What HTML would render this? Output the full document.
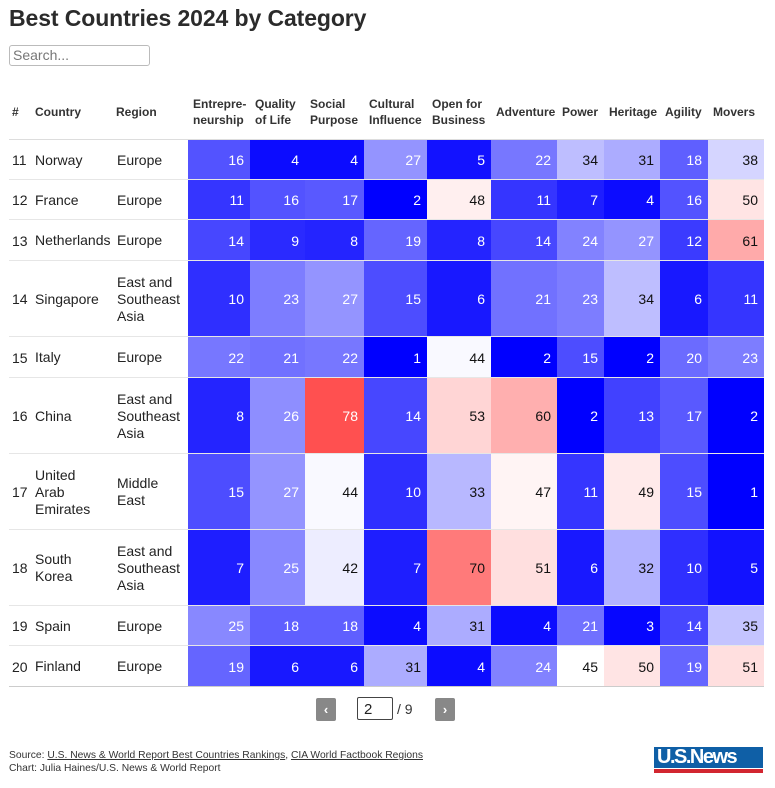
<!DOCTYPE html>
<html><head><meta charset="utf-8"><style>
body{margin:0;width:775px;height:788px;background:#fff;font-family:"Liberation Sans",sans-serif;color:#222;position:relative;overflow:hidden}
.a{position:absolute}
#title{left:9px;top:5px;font-size:23px;font-weight:bold;color:#2b2b2b;letter-spacing:-0.1px}
#search{left:9px;top:45px;width:136px;height:19px;border:1px solid #bbb;border-radius:3px;font-size:14px;color:#777;padding-left:3px;line-height:19px;box-sizing:content-box}
.h{font-size:12px;font-weight:bold;color:#333;line-height:16px;display:flex;align-items:center}
.c{font-size:14px;display:flex;align-items:center;box-sizing:border-box}
.num{justify-content:flex-end;padding-right:6px}
.line{height:1px;background:#ddd;left:9px;width:755px}
.btn{width:20px;height:23px;background:#888;border-radius:2px;color:#fff;font-size:13px;text-align:center;line-height:23px;font-weight:bold}
#foot{left:9px;top:749px;font-size:10.3px;color:#333;line-height:13px}
#foot u{color:#333}
</style></head><body>
<div class="a" id="title">Best Countries 2024 by Category</div>
<div class="a" id="search">Search...</div>
<div id="tbl"></div>
<div class="a btn" style="left:316px;top:698px">‹</div>
<div class="a" style="left:357px;top:697px;width:36px;height:23px;border:1px solid #444;border-radius:2px;font-size:15px;line-height:23px;padding-left:6px;box-sizing:border-box">2</div>
<div class="a" style="left:397px;top:701px;font-size:14px;color:#333">/ 9</div>
<div class="a btn" style="left:435px;top:698px">›</div>
<div class="a" id="foot">Source: <u>U.S. News &amp; World Report Best Countries Rankings</u>, <u>CIA World Factbook Regions</u><br>Chart: Julia Haines/U.S. News &amp; World Report</div>
<div class="a" style="left:654px;top:747px;width:109px;height:26px">
<div class="a" style="left:0;top:0;width:109px;height:21px;background:#0f5fa6;color:#fff;font-weight:bold;font-size:20px;line-height:21px;letter-spacing:-1.5px;padding-left:3px;box-sizing:border-box">U.S.News</div>
<div class="a" style="left:0;top:22px;width:109px;height:4px;background:#d22630"></div>
</div>
<script>
const categories=["Entrepre-<br>neurship","Quality<br>of Life","Social<br>Purpose","Cultural<br>Influence","Open for<br>Business","Adventure","Power","Heritage","Agility","Movers"];
const ranks=[11,12,13,14,15,16,17,18,19,20];
const countries=["Norway","France","Netherlands","Singapore","Italy","China","United<br>Arab<br>Emirates","South<br>Korea","Spain","Finland"];
const regions=["Europe","Europe","Europe","East and<br>Southeast<br>Asia","Europe","East and<br>Southeast<br>Asia","Middle<br>East","East and<br>Southeast<br>Asia","Europe","Europe"];
const values=[
[16,4,4,27,5,22,34,31,18,38],
[11,16,17,2,48,11,7,4,16,50],
[14,9,8,19,8,14,24,27,12,61],
[10,23,27,15,6,21,23,34,6,11],
[22,21,22,1,44,2,15,2,20,23],
[8,26,78,14,53,60,2,13,17,2],
[15,27,44,10,33,47,11,49,15,1],
[7,25,42,7,70,51,6,32,10,5],
[25,18,18,4,31,4,21,3,14,35],
[19,6,6,31,4,24,45,50,19,51]];
const colX=[10,32,113,188,250,305,364,427,491,557,604,660,708,764];
const rowTop=[140,180,220,261,337,378,454,530,606,646,687];
function color(v){
  if(v<=45){let t=Math.max(0,Math.min(1,(v-2)/43));let g=Math.round(255*t);return `rgb(${g},${g},255)`;}
  let t=Math.min(1,(v-45)/48);let g=Math.round(255*(1-t));return `rgb(255,${g},${g})`;}
const tbl=document.getElementById('tbl');
function mk(cls,x,y,w,h,html){const d=document.createElement('div');d.className='a '+cls;d.style.left=x+'px';d.style.top=y+'px';d.style.width=w+'px';d.style.height=h+'px';d.innerHTML=html;tbl.appendChild(d);return d;}
const heads=["#","Country","Region"].concat(categories);
heads.forEach((t,i)=>{const d=mk('h',colX[i]+(i==0?2:(i>2?5:3)),88,colX[i+1]-colX[i],48,t);

});
const l0=mk('line',9,139,755,1,'');


ranks.forEach((r,i)=>{
  const y=rowTop[i],h=rowTop[i+1]-y;
  const a=mk('c',colX[0]+2,y,22,h,r);
  
  
  const b=mk('c',colX[1]+3,y,80,h,countries[i]);b.style.lineHeight='17px';
  
  
  const c=mk('c',colX[2]+4,y,76,h,regions[i]);c.style.lineHeight='17px';
  
  
  values[i].forEach((v,j)=>{
    const d=mk('c num',colX[j+3],y,colX[j+4]-colX[j+3],h,v);
    d.style.background=color(v);
    d.style.color=(v>=30&&v<=75)?'#111':'#fff';
    
    
  });
  const ln=mk('line',9,rowTop[i+1]-1,755,1,'');
  ln.style.background=i==9?'#ccc':'#e6e6e6';
  
  
});
</script>
</body></html>
